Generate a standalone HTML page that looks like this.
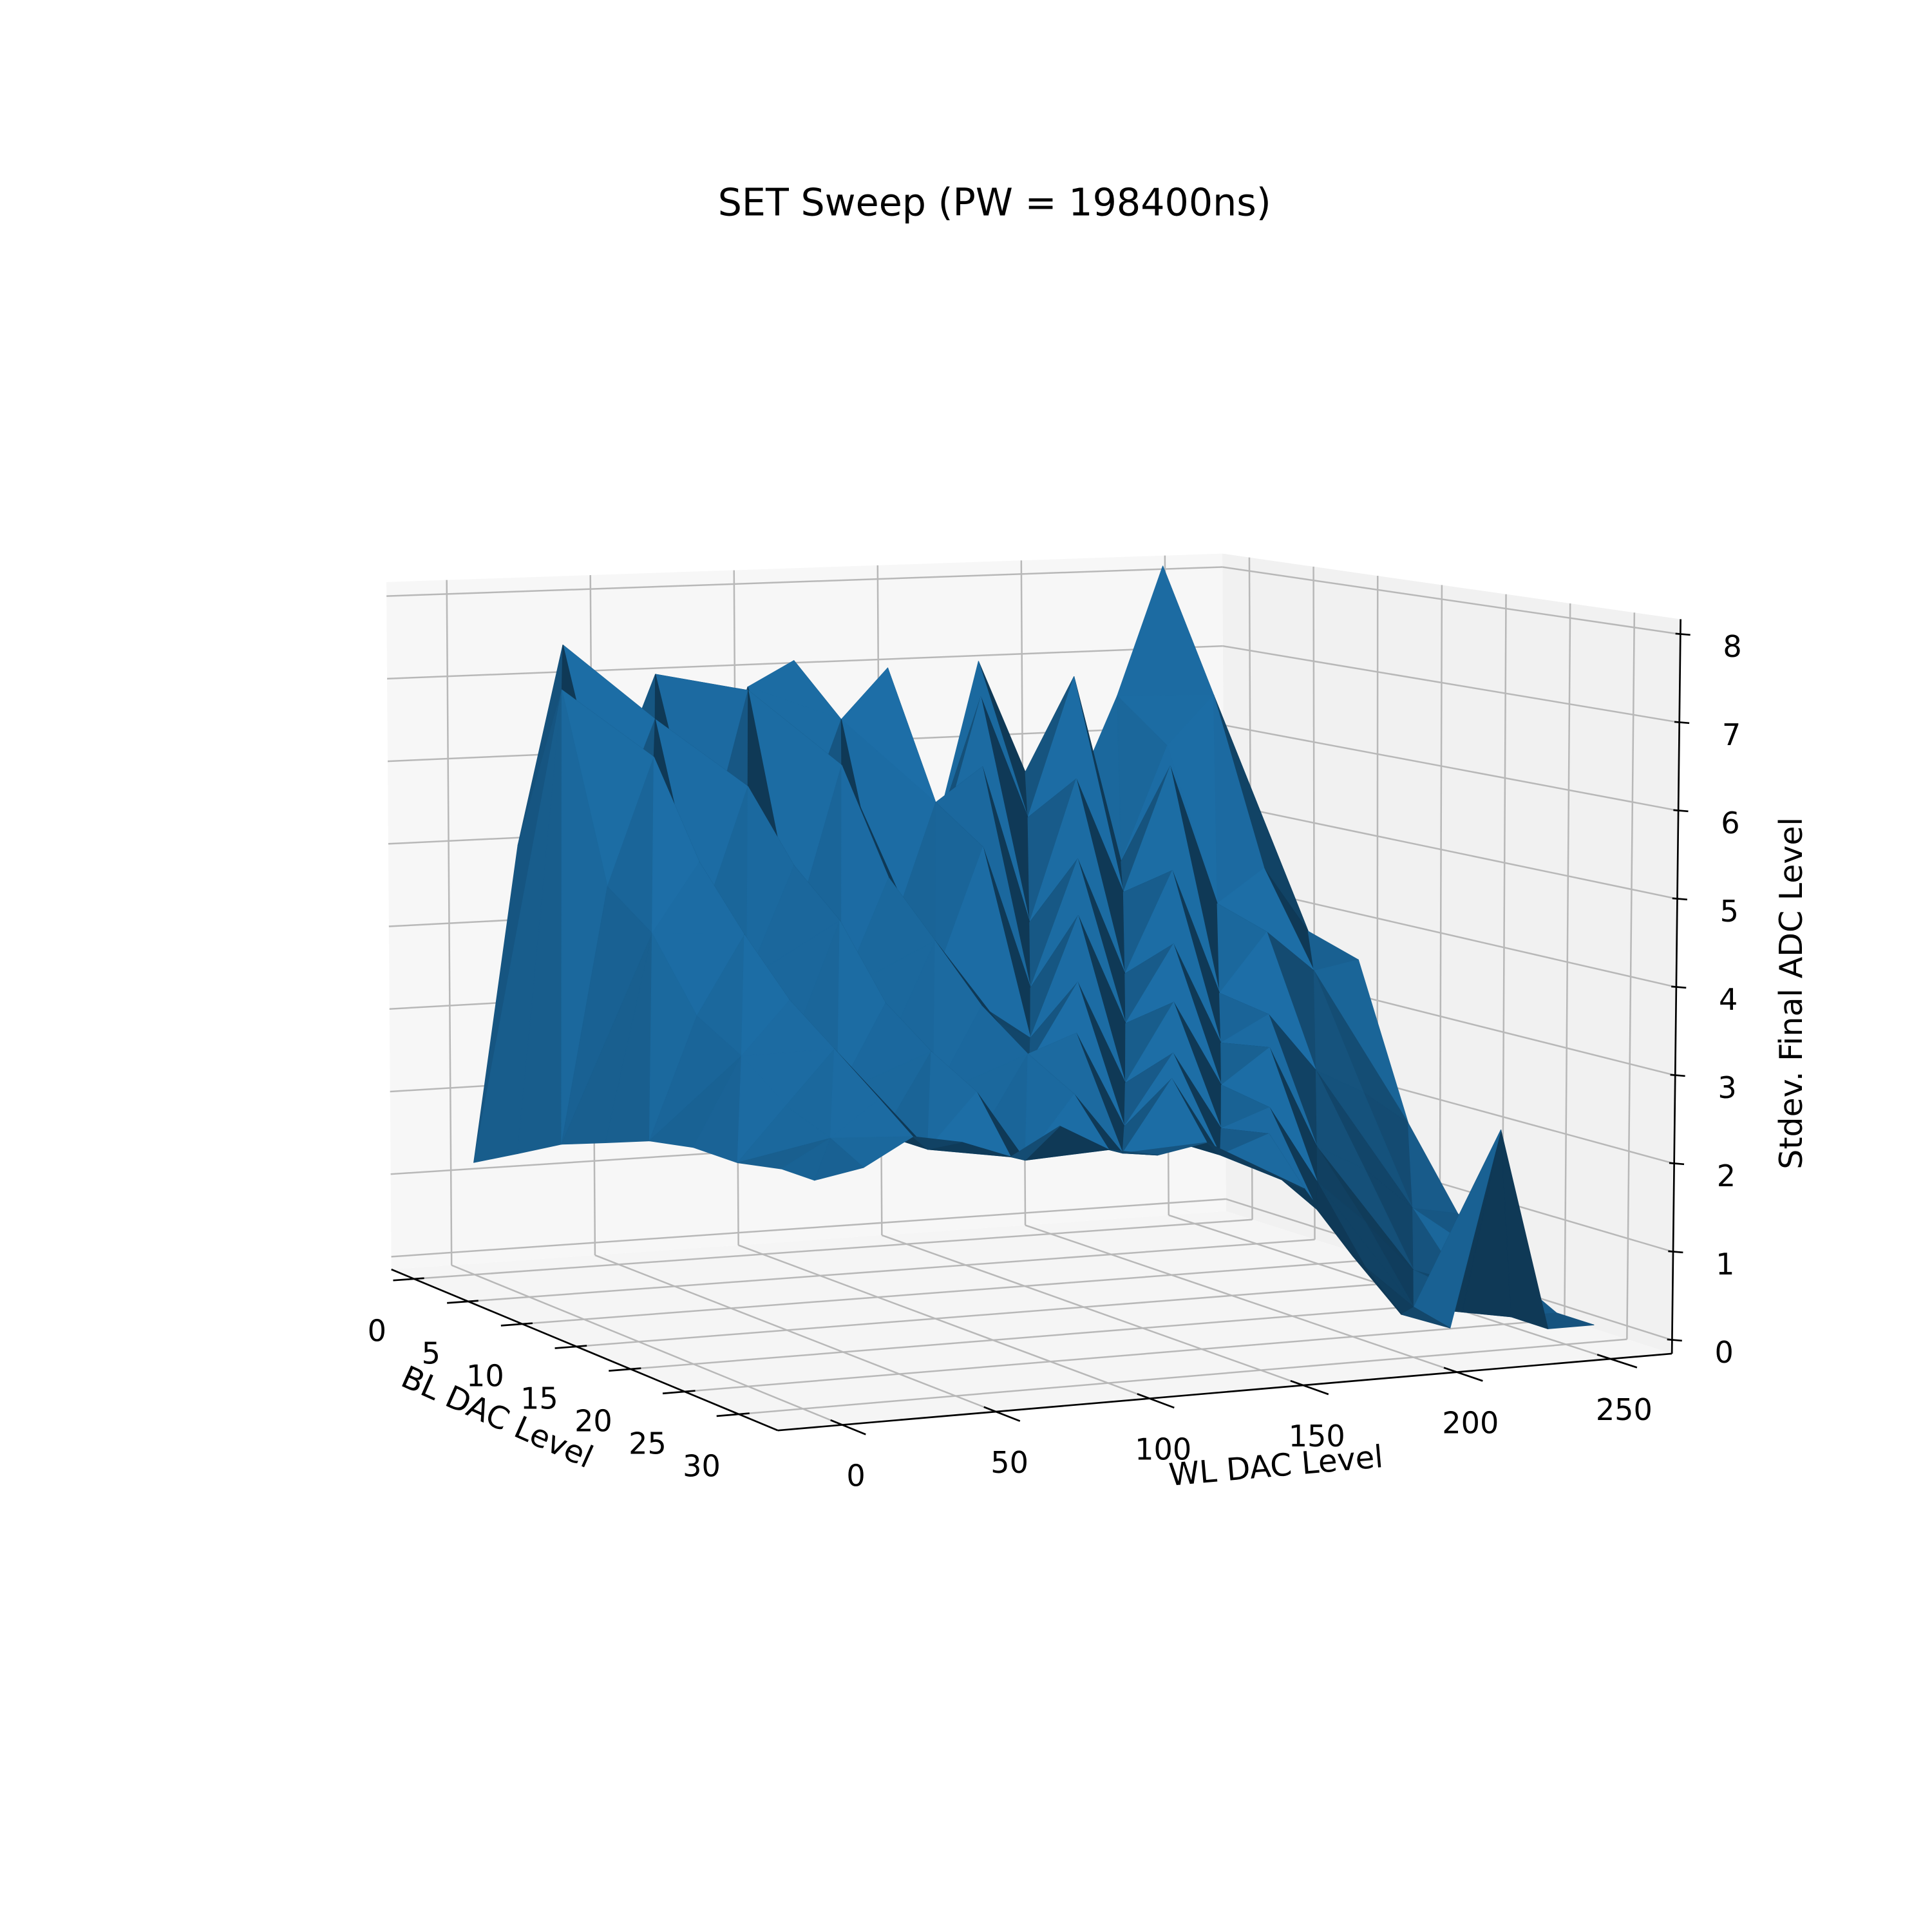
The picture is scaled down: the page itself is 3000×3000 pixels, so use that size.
<!DOCTYPE html>
<html><head><meta charset="utf-8"><style>
html,body{margin:0;padding:0;background:#fff}
svg{display:block}
text{font-family:"DejaVu Sans","Liberation Sans",sans-serif;fill:#000}
</style></head><body>
<svg id="chart" width="3000" height="3000" viewBox="0 0 1560 1560" xmlns="http://www.w3.org/2000/svg">
<rect width="1560" height="1560" fill="#fff"/>
<text x="803" y="174" font-size="30.5" text-anchor="middle">SET Sweep (PW = 198400ns)</text>
<g id="panes"></g>
<g id="grid"></g>
<g id="surf"></g>
<g id="axes"></g>
<text x="0" y="0" font-size="25" text-anchor="middle" transform="translate(398,1152) rotate(24)">BL DAC Level</text>
<text x="0" y="0" font-size="25" text-anchor="middle" transform="translate(1031,1192) rotate(-5)">WL DAC Level</text>
<text x="0" y="0" font-size="25.5" text-anchor="middle" transform="translate(1455,802) rotate(-90)">Stdev. Final ADC Level</text>
</svg>
<script>
const blValues=[0,4,8,12,16,20,24,28,31];
const wlValues=[0,16,32,48,64,80,96,112,128,144,160,176,192,208,224,240,255];
const zRow0=[1.2,5.0,7.4,5.6,7.0,5.2,6.8,7.1,5.4,6.9,4.8,7.0,5.6,5.2,6.5,8.1,6.0];
const zRow1=[1.5,7.0,5.2,6.6,4.8,6.9,5.0,6.5,7.1,4.7,6.7,5.2,6.9,4.6,6.0,6.6,4.9];
const zRow2=[1.8,4.8,6.3,4.3,5.9,4.2,6.1,4.0,5.6,6.0,4.1,5.8,4.4,5.9,4.2,4.6,3.8];
const zRow3=[2.0,4.4,5.2,3.8,5.1,3.6,4.9,3.7,5.2,3.5,5.0,3.6,4.8,3.3,4.0,3.5,3.6];
const zRow4=[2.2,3.6,4.5,3.2,4.6,3.1,4.3,3.4,3.1,4.5,3.2,4.1,2.9,3.2,2.5,2.2,1.8];
const zRow5=[2.3,3.3,3.9,2.8,3.8,2.7,3.7,3.0,3.9,2.7,3.6,2.6,3.0,1.8,1.5,1.0,0.9];
const zRow6=[2.3,2.9,3.5,2.5,3.4,2.4,3.3,3.5,2.4,3.2,2.3,2.5,1.6,1.1,0.5,0.3,0.4];
const zRow7=[2.4,2.7,3.1,2.5,3.1,2.3,3.0,2.3,3.1,2.2,2.4,1.5,0.8,0.3,0.2,0.1,0.1];
const zRow8=[2.4,2.5,2.8,2.7,2.5,2.8,2.5,2.4,2.5,2.2,1.9,1.1,0.4,0.2,2.4,0.1,0.1];
const zRows=[zRow0,zRow1,zRow2,zRow3,zRow4,zRow5,zRow6,zRow7,zRow8];
const wlTicks=[0,50,100,150,200,250];
const blTicks=[0,5,10,15,20,25,30];
const zTicks=[0,1,2,3,4,5,6,7,8];

const WL0=-21,WL1=270,BL0=-2.1,BL1=33.6,Z0=-0.154,Z1=8.17;
const F={a:[316,1025],b:[990,978],c:[1350,1093],d:[628,1155]};
const T={a:[312,470],b:[987,447],c:[1357,500],d:[630,535]};
function bil(C,u,v){const x=(1-u)*(1-v)*C.a[0]+u*(1-v)*C.b[0]+u*v*C.c[0]+(1-u)*v*C.d[0];
const y=(1-u)*(1-v)*C.a[1]+u*(1-v)*C.b[1]+u*v*C.c[1]+(1-u)*v*C.d[1];return [x,y];}
function P(u,v,w){const f=bil(F,u,v),t=bil(T,u,v);return [f[0]*(1-w)+t[0]*w,f[1]*(1-w)+t[1]*w];}
const U=wl=>(wl-WL0)/(WL1-WL0), V=bl=>(bl-BL0)/(BL1-BL0), W=z=>(z-Z0)/(Z1-Z0);
const NS='http://www.w3.org/2000/svg';
function mk(tag,parent,attrs){const e=document.createElementNS(NS,tag);for(const k in attrs)e.setAttribute(k,attrs[k]);parent.appendChild(e);return e;}
const pts=a=>a.map(p=>p[0].toFixed(1)+','+p[1].toFixed(1)).join(' ');

const panes=document.getElementById('panes');
let e;
e=mk('polygon',panes,{points:pts([P(0,0,0),P(1,0,0),P(1,0,1),P(0,0,1)]),fill:'#f7f7f7'});


e=mk('polygon',panes,{points:pts([P(1,0,0),P(1,1,0),P(1,1,1),P(1,0,1)]),fill:'#f1f1f1'});


e=mk('polygon',panes,{points:pts([P(0,0,0),P(1,0,0),P(1,1,0),P(0,1,0)]),fill:'#f5f5f5'});



const grid=document.getElementById('grid');
function gl(a,b,name){const l=mk('line',grid,{x1:a[0],y1:a[1],x2:b[0],y2:b[1],stroke:'#b8b8b8','stroke-width':1.3});

}
wlTicks.forEach(t=>{const u=U(t);gl(P(u,0,0),P(u,1,0),'floor-grid-wl');gl(P(u,0,0),P(u,0,1),'wall-grid-wl');});
blTicks.forEach(t=>{const v=V(t);gl(P(0,v,0),P(1,v,0),'floor-grid-bl');gl(P(1,v,0),P(1,v,1),'wall-grid-bl');});
zTicks.forEach(t=>{const w=W(t);gl(P(0,0,w),P(1,0,w),'back-grid-z');gl(P(1,0,w),P(1,1,w),'side-grid-z');});

const tris=[];
for(let i=0;i<blValues.length-1;i++)for(let j=0;j<wlValues.length-1;j++){
 const q=[[j,i],[j+1,i],[j+1,i+1],[j,i+1]].map(([jj,ii])=>[U(wlValues[jj]),V(blValues[ii]),W(zRows[ii][jj])]);
 const split=((i+j)%2===0)?[[q[0],q[1],q[2]],[q[0],q[2],q[3]]]:[[q[0],q[1],q[3]],[q[1],q[2],q[3]]];
 split.forEach(t=>{
  const cu=(t[0][0]+t[1][0]+t[2][0])/3,cv=(t[0][1]+t[1][1]+t[2][1])/3;
  tris.push({t,d:cv*1.0+(1-cu)*0.3});});
}
tris.sort((a,b)=>a.d-b.d);
const L=(()=>{const l=[-0.6,0.55,0.45];const n=Math.hypot(...l);return l.map(x=>x/n);})();
const surf=document.getElementById('surf');
tris.forEach(o=>{
 const [A,B,C]=o.t;
 const e1=[B[0]-A[0],B[1]-A[1],B[2]-A[2]],e2=[C[0]-A[0],C[1]-A[1],C[2]-A[2]];
 let n=[e1[1]*e2[2]-e1[2]*e2[1],e1[2]*e2[0]-e1[0]*e2[2],e1[0]*e2[1]-e1[1]*e2[0]];
 const nl=Math.hypot(...n)||1;n=n.map(x=>x/nl);if(n[2]<0)n=n.map(x=>-x);
 const dt=Math.max(0,Math.min(1,n[0]*L[0]+n[1]*L[1]+n[2]*L[2]));
 const k=0.48+0.45*dt;
 const col=`rgb(${Math.round(31*k)},${Math.round(119*k)},${Math.round(180*k)})`;
 const p=mk('polygon',surf,{points:pts(o.t.map(q=>P(q[0],q[1],q[2]))),fill:col,stroke:col,'stroke-width':0.6,'stroke-linejoin':'round'});
 
 
});

const ax=document.getElementById('axes');
function al(a,b,name,w){const l=mk('line',ax,{x1:a[0],y1:a[1],x2:b[0],y2:b[1],stroke:'#000','stroke-width':w||1.4});

}
function tx(x,y,s,name){const t=mk('text',ax,{x:x,y:y,'font-size':24,'text-anchor':'middle','dominant-baseline':'central'});t.textContent=s;

}
al(P(0,0,0),P(0,1,0),'bl-axis-line');
al(P(0,1,0),P(1,1,0),'wl-axis-line');
al(P(1,1,0),P(1,1,1),'z-axis-line');
blTicks.forEach(t=>{const v=V(t);const a=P(0,v,0),b=P(-0.025,v,0),c=P(0.012,v,0);al(b,c,'bl-tick');tx(a[0]-30,a[1]+42,String(t),'bl-tick-label');});
wlTicks.forEach(t=>{const u=U(t);const a=P(u,1,0),b=P(u,1.06,0),c=P(u,0.97,0);al(b,c,'wl-tick');tx(a[0]+11,a[1]+41,String(t),'wl-tick-label');});
zTicks.forEach(t=>{const w=W(t);const a=P(1,1,w);al([a[0]-4,a[1]-0.5],[a[0]+8,a[1]+0.5],'z-tick');tx(a[0]+42,a[1]+10,String(t),'z-tick-label');});
</script>
</body></html>
